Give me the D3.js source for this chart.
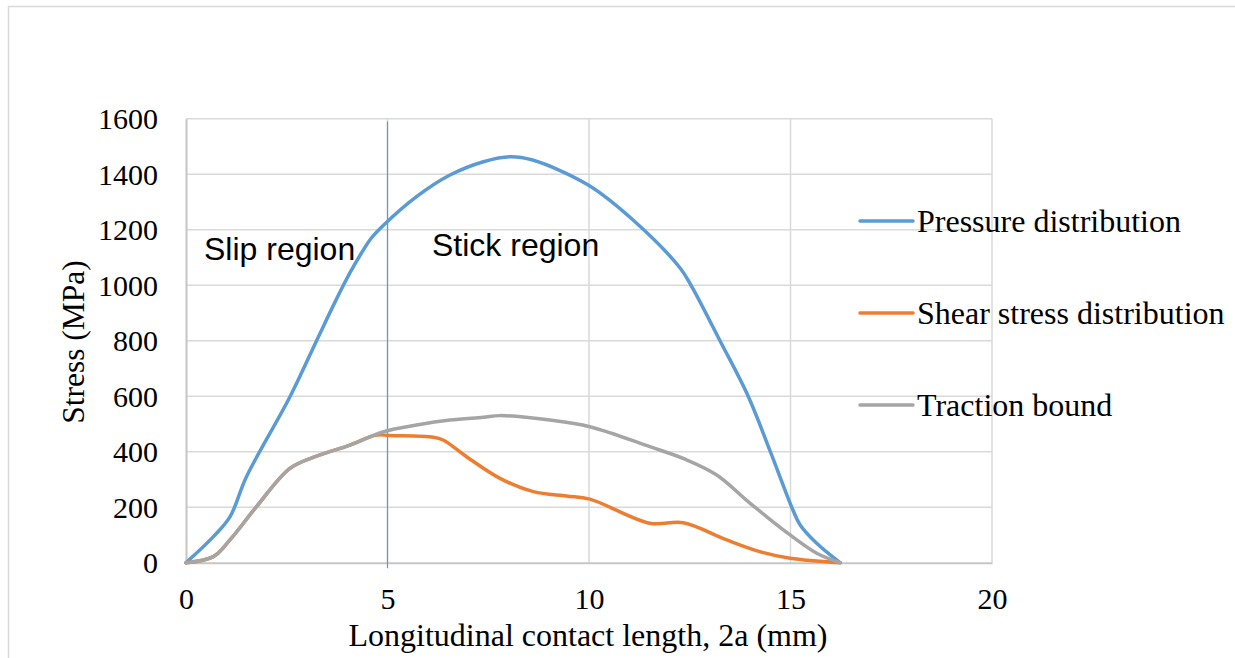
<!DOCTYPE html>
<html>
<head>
<meta charset="utf-8">
<script src="https://cdn.jsdelivr.net/npm/d3@7"></script>
<style>
  html, body { margin: 0; padding: 0; background: #fff; }
  svg { display: block; }
</style>
</head>
<body>
<svg id="chart" width="1235" height="658"></svg>
<script>
// Contact length positions (mm) and stress values (MPa) for each curve
const pressureX = [0, 0.68, 1.09, 1.5, 2.58, 3.24, 3.7, 4.07, 4.35, 4.6, 4.9, 5.72, 6.55, 7.38, 8.04, 8.6, 9.98, 11.1, 12.26, 12.55, 13.25, 13.95, 14.5, 15.06, 15.24, 15.65, 16.23];
const pressureY = [0, 94, 165, 310, 598, 800, 940, 1045, 1115, 1170, 1216, 1319, 1397, 1445, 1463, 1451, 1361, 1234, 1062, 995, 800, 600, 400, 190, 136, 70, 0];

const shearX = [0, 0.68, 1.09, 1.75, 2.58, 3.24, 4.07, 4.73, 5.06, 6.14, 6.38, 6.96, 7.79, 8.62, 9.44, 10.02, 11.51, 12.34, 13.42, 14.24, 14.99, 16.23];
const shearY = [0, 22, 82, 202, 340, 384, 424, 460, 458, 452, 442, 382, 304, 256, 240, 229, 142, 144, 82, 40, 16, 0];

const tractionX = [0, 0.68, 1.09, 1.75, 2.58, 3.24, 4.07, 4.9, 5.72, 6.55, 7.38, 7.79, 9.03, 10.02, 11.51, 12.4, 13.17, 14.0, 14.99, 15.65, 16.23];
const tractionY = [0, 22, 82, 202, 340, 384, 424, 472, 496, 514, 524, 530, 514, 490, 418, 372, 316, 214, 100, 34, 0];

const seriesNames = ["Pressure distribution", "Shear stress distribution", "Traction bound"];
const seriesColors = ["#5B9BD5", "#ED7D31", "#A5A5A5"];

const xTicks = [0, 5, 10, 15, 20];
const yTicks = [0, 200, 400, 600, 800, 1000, 1200, 1400, 1600];
const stickBoundary = 5; // mm, separates slip and stick regions

const series = [
  { name: seriesNames[0], color: seriesColors[0], pts: pressureX.map((x, i) => [x, pressureY[i]]) },
  { name: seriesNames[1], color: seriesColors[1], pts: shearX.map((x, i) => [x, shearY[i]]) },
  { name: seriesNames[2], color: seriesColors[2], pts: tractionX.map((x, i) => [x, tractionY[i]]) }
];

const svg = d3.select("#chart");
const serif = "'Liberation Serif', 'Times New Roman', serif";
const sans = "'Liberation Sans', Arial, sans-serif";

// outer chart frame
svg.append("rect")
  .attr("x", 8.5).attr("y", 6.5).attr("width", 1240).attr("height", 700)
  .attr("fill", "none").attr("stroke", "#d9d9d9").attr("stroke-width", 1.5);

const plot = { left: 186, right: 992, top: 118.7, bottom: 562.7 };
const x = d3.scaleLinear().domain([0, 20]).range([plot.left, plot.right]);
const y = d3.scaleLinear().domain([0, 1600]).range([plot.bottom, plot.top]);

// gridlines
svg.append("g").selectAll("line.h").data(yTicks.filter(d => d > 0)).join("line")
  .attr("x1", plot.left).attr("x2", plot.right)
  .attr("y1", d => y(d)).attr("y2", d => y(d))
  .attr("stroke", "#d9d9d9").attr("stroke-width", 1.5);
svg.append("g").selectAll("line.v").data(xTicks.filter(d => d > 0)).join("line")
  .attr("x1", d => x(d)).attr("x2", d => x(d))
  .attr("y1", plot.top).attr("y2", plot.bottom)
  .attr("stroke", "#d9d9d9").attr("stroke-width", 1.5);

// axes
const yAxis = svg.append("g").attr("transform", `translate(${plot.left},0)`)
  .call(d3.axisLeft(y).tickValues(yTicks).tickSize(0).tickPadding(28).tickFormat(d3.format("d")));
const xAxis = svg.append("g").attr("transform", `translate(0,${plot.bottom})`)
  .call(d3.axisBottom(x).tickValues(xTicks).tickSize(0).tickPadding(31).tickFormat(d3.format("d")));
[yAxis, xAxis].forEach(g => {
  g.select(".domain").attr("stroke", "#c6c6c6").attr("stroke-width", 2);
  g.selectAll("text").attr("font-family", serif).attr("font-size", 30).attr("fill", "#000");
});
yAxis.selectAll("text").attr("dy", "0.33em");
xAxis.selectAll("text").attr("dy", "0.5em");

// slip / stick boundary
svg.append("line")
  .attr("x1", x(stickBoundary)).attr("x2", x(stickBoundary))
  .attr("y1", y(1590)).attr("y2", y(-20))
  .attr("stroke", "#5B9BD5").attr("stroke-width", 1.2);

// curves
const line = d3.line().x(d => x(d[0])).y(d => y(d[1])).curve(d3.curveCatmullRom.alpha(0.5));
svg.append("g").selectAll("path").data(series).join("path")
  .attr("d", d => line(d.pts))
  .attr("fill", "none")
  .attr("stroke", d => d.color)
  .attr("stroke-width", 3.5)
  .attr("stroke-linejoin", "round").attr("stroke-linecap", "round");

// region labels
svg.append("text").attr("x", 204).attr("y", 260)
  .attr("font-family", sans).attr("font-size", 32).text("Slip region");
svg.append("text").attr("x", 432).attr("y", 256)
  .attr("font-family", sans).attr("font-size", 32).text("Stick region");

// axis titles
svg.append("text")
  .attr("transform", "translate(84,342) rotate(-90)")
  .attr("text-anchor", "middle")
  .attr("font-family", serif).attr("font-size", 31.5).text("Stress (MPa)");
svg.append("text")
  .attr("x", 588).attr("y", 646).attr("text-anchor", "middle")
  .attr("font-family", serif).attr("font-size", 32).text("Longitudinal contact length, 2a (mm)");

// legend
const legend = svg.append("g").selectAll("g").data(series).join("g")
  .attr("transform", (d, i) => `translate(860,${221 + i * 92})`);
legend.append("line").attr("x1", 0).attr("x2", 53)
  .attr("stroke", d => d.color).attr("stroke-width", 3.5).attr("stroke-linecap", "round");
legend.append("text").attr("x", 57).attr("dy", "0.34em")
  .attr("font-family", serif).attr("font-size", 32).text(d => d.name);
</script>
</body>
</html>
